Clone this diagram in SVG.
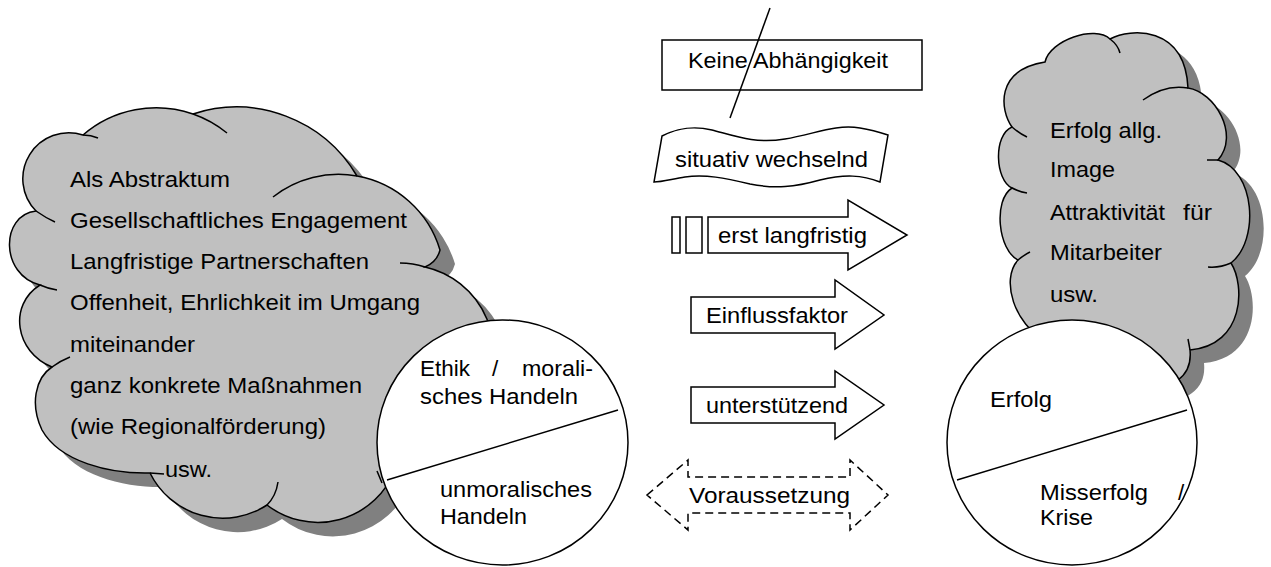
<svg xmlns="http://www.w3.org/2000/svg" xmlns:xlink="http://www.w3.org/1999/xlink" width="1271" height="567" viewBox="0 0 1271 567">
<style>
.ln{fill:none;stroke:#000;stroke-width:1.5}
.cloud{fill:#c0c0c0;stroke:#000;stroke-width:1.5}
.shadow{fill:#808080;stroke:none}
.wh{fill:#fff;stroke:#000;stroke-width:1.5}
.dash{fill:#fff;stroke:#000;stroke-width:1.5;stroke-dasharray:8 5}
.t{font-family:"Liberation Sans",Arial,sans-serif;font-size:22.5px;fill:#000}
</style>
<defs>
<path id="lc" d="M36,211 A46 46 0 0 1 83,135 A112 112 0 0 1 193,114 A140 140 0 0 1 357,176 A106 106 0 0 1 440,250 Q437,262 425,267 A88 88 0 0 1 480,400 L395,470 A83 83 0 0 1 267,505 A81 81 0 0 1 150,473 C110,474 60,462 42,430 C30,405 35,378 52,367 C15,352 8,305 40,285 C0,275 0,215 36,211 Z"/>
<path id="rc" d="M1012,127 C1000,110 995,70 1045,62 C1050,40 1095,25 1110,39 C1130,28 1185,25 1188,88 C1215,92 1240,135 1218,160 C1255,170 1260,240 1231,263 C1245,285 1245,345 1190,350 Q1192,370 1178,380 L1120,420 L1050,400 L1045,340 C1015,325 1000,280 1018,260 C998,250 993,200 1012,188 C995,180 993,135 1012,127 Z"/>
</defs>

<g id="cloud-left">
<use xlink:href="#lc" class="shadow" transform="translate(15,14)"/>
<use xlink:href="#lc" class="cloud"/>
<path class="ln" d="M36,211 Q46,218 55,222 M83,135 Q91,135 98,138 M193,114 A112 112 0 0 1 227,133 M273,197 A106 106 0 0 1 357,176 M400,263 A88 88 0 0 1 425,267 M267,505 Q276,496 278,482 M150,473 L164,474 M52,367 Q60,361 70,357 M40,285 Q49,289 57,290 M377,471 L382,483"/>
<text class="t" x="70" y="187" textLength="160" lengthAdjust="spacingAndGlyphs">Als Abstraktum</text>
<text class="t" x="70" y="228" textLength="337" lengthAdjust="spacingAndGlyphs">Gesellschaftliches Engagement</text>
<text class="t" x="70" y="269" textLength="299" lengthAdjust="spacingAndGlyphs">Langfristige Partnerschaften</text>
<text class="t" x="70" y="310" textLength="350" lengthAdjust="spacingAndGlyphs">Offenheit, Ehrlichkeit im Umgang</text>
<text class="t" x="70" y="352" textLength="125" lengthAdjust="spacingAndGlyphs">miteinander</text>
<text class="t" x="70" y="393" textLength="292" lengthAdjust="spacingAndGlyphs">ganz konkrete Maßnahmen</text>
<text class="t" x="70" y="434" textLength="256" lengthAdjust="spacingAndGlyphs">(wie Regionalförderung)</text>
<text class="t" x="165" y="477" textLength="47" lengthAdjust="spacingAndGlyphs">usw.</text>
</g>

<g id="circle-left">
<ellipse class="wh" cx="502.5" cy="442.5" rx="125.5" ry="122.5"/>
<line class="ln" x1="387" y1="480" x2="618" y2="410"/>
<text class="t" x="420" y="376" textLength="50" lengthAdjust="spacingAndGlyphs">Ethik</text>
<text class="t" x="492" y="376">/</text>
<text class="t" x="522" y="376" textLength="71" lengthAdjust="spacingAndGlyphs">morali-</text>
<text class="t" x="420" y="404" textLength="158" lengthAdjust="spacingAndGlyphs">sches Handeln</text>
<text class="t" x="440" y="497" textLength="152" lengthAdjust="spacingAndGlyphs">unmoralisches</text>
<text class="t" x="440" y="524" textLength="87" lengthAdjust="spacingAndGlyphs">Handeln</text>
</g>

<g id="cloud-right">
<use xlink:href="#rc" class="shadow" transform="translate(14,13)"/>
<use xlink:href="#rc" class="cloud"/>
<path class="ln" d="M1012,127 Q1020,134 1027,137 M1012,188 Q1020,192 1027,193 M1018,260 Q1024,255 1030,252 M1110,39 Q1118,45 1120,53 M1143,100 Q1165,84 1188,88 M1207,160 L1218,160 M1231,263 Q1220,268 1208,267 M1190,350 Q1189,344 1188,339"/>
<text class="t" x="1050" y="138" textLength="112" lengthAdjust="spacingAndGlyphs">Erfolg allg.</text>
<text class="t" x="1050" y="177" textLength="65" lengthAdjust="spacingAndGlyphs">Image</text>
<text class="t" x="1050" y="220" textLength="115" lengthAdjust="spacingAndGlyphs">Attraktivität</text>
<text class="t" x="1183" y="220" textLength="29" lengthAdjust="spacingAndGlyphs">für</text>
<text class="t" x="1050" y="260" textLength="112" lengthAdjust="spacingAndGlyphs">Mitarbeiter</text>
<text class="t" x="1050" y="302" textLength="48" lengthAdjust="spacingAndGlyphs">usw.</text>
</g>

<g id="circle-right">
<ellipse class="wh" cx="1072" cy="442.5" rx="125" ry="122.5"/>
<line class="ln" x1="957" y1="480" x2="1187" y2="410"/>
<text class="t" x="990" y="407" textLength="62" lengthAdjust="spacingAndGlyphs">Erfolg</text>
<text class="t" x="1040" y="500" textLength="108" lengthAdjust="spacingAndGlyphs">Misserfolg</text>
<text class="t" x="1178" y="500">/</text>
<text class="t" x="1040" y="525" textLength="53" lengthAdjust="spacingAndGlyphs">Krise</text>
</g>

<g id="keine-abhaengigkeit">
<rect class="wh" x="662" y="40" width="260" height="50"/>
<text class="t" x="688" y="68" textLength="200" lengthAdjust="spacingAndGlyphs">Keine Abhängigkeit</text>
<line class="ln" x1="770" y1="8" x2="730" y2="118"/>
</g>

<g id="situativ">
<path class="wh" d="M662,136 C680,127 695,126 712,130 C735,136 755,144 785,139 C815,134 835,124 860,128 C873,130 882,133 888,135 L880,182 C862,175 845,174 820,180 C795,187 775,189 750,184 C725,178 705,174 685,177 C672,179 662,182 654,182 Z"/>
<text class="t" x="675" y="167" textLength="193" lengthAdjust="spacingAndGlyphs">situativ wechselnd</text>
</g>

<g id="erst-langfristig">
<rect class="wh" x="672" y="217" width="8" height="36"/>
<rect class="wh" x="686" y="217" width="16" height="36"/>
<polygon class="wh" points="708,217 848,217 848,200 907,235 848,270 848,253 708,253"/>
<text class="t" x="718" y="243" textLength="149" lengthAdjust="spacingAndGlyphs">erst langfristig</text>
</g>

<g id="einflussfaktor">
<polygon class="wh" points="691,297 835,297 835,280 884,315 835,349 835,333 691,333"/>
<text class="t" x="706" y="323" textLength="142" lengthAdjust="spacingAndGlyphs">Einflussfaktor</text>
</g>

<g id="unterstuetzend">
<polygon class="wh" points="691,387 835,387 835,371 884,405 835,439 835,423 691,423"/>
<text class="t" x="706" y="413" textLength="142" lengthAdjust="spacingAndGlyphs">unterstützend</text>
</g>

<g id="voraussetzung">
<polygon class="dash" points="647,495 688,460 688,477 850,477 850,460 888,495 850,530 850,513 688,513 688,530"/>
<text class="t" x="689" y="503" textLength="161" lengthAdjust="spacingAndGlyphs">Voraussetzung</text>
</g>

<g id="connectors"></g>
</svg>
